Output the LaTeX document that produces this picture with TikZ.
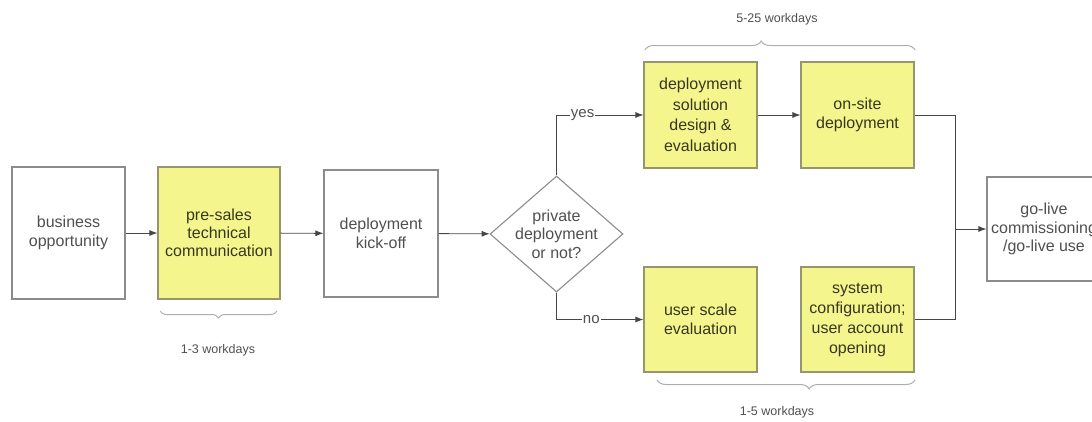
\documentclass[tikz,border=0pt]{standalone}
\usepackage{fontspec}
\setmainfont{Liberation Sans}
\usetikzlibrary{shapes.geometric,arrows.meta,decorations.pathreplacing,calc}
\definecolor{boxyellow}{RGB}{245,245,142}
\definecolor{yborder}{RGB}{150,150,110}
\definecolor{wborder}{RGB}{140,140,140}
\definecolor{wtext}{RGB}{80,80,80}
\definecolor{ytext}{RGB}{55,55,30}
\definecolor{linec}{RGB}{70,70,70}
\definecolor{bracec}{RGB}{170,175,180}
\begin{document}
\begin{tikzpicture}[x=1pt,y=-1pt,
  font=\fontsize{16}{19.5}\selectfont,
  wbox/.style={draw=wborder,line width=1.1pt,fill=white,text=wtext,align=center,inner sep=0pt},
  ybox/.style={draw=yborder,line width=1.1pt,fill=boxyellow,text=ytext,align=center,inner sep=0pt},
  conn/.style={draw=linec,line width=0.9pt,-{Latex[length=8pt,width=6pt]}},
  plainline/.style={draw=linec,line width=0.9pt},
  bracestyle/.style={draw=bracec,line width=1pt,decorate},
  small/.style={font=\fontsize{12.5}{14}\selectfont,text=wtext},
  lbl/.style={fill=white,inner sep=1pt,text=wtext,font=\fontsize{15}{17}\selectfont}]
\useasboundingbox (0,0) rectangle (1092,421);
\node[wbox,minimum width=113pt,minimum height=132pt] (b1) at (68.5,233) {business\\opportunity};
\node[ybox,minimum width=122pt,minimum height=132pt,font=\fontsize{16}{17.8}\selectfont] (b2) at (219,233) {pre-sales\\technical\\communication};
\node[wbox,minimum width=114pt,minimum height=127pt] (b3) at (381,233.5) {deployment\\kick-off};
\node[draw=wborder,line width=1.1pt,fill=white,text=wtext,align=center,shape=diamond,inner sep=-3pt,aspect=1.15,minimum width=133pt,minimum height=116pt,font=\fontsize{16}{18.3}\selectfont] (d) at (556.5,234) {private\\deployment\\or not?};
\node[ybox,minimum width=113pt,minimum height=106pt,font=\fontsize{16}{20.5}\selectfont] (b4) at (700.5,115) {deployment\\solution\\design \&\\evaluation};
\node[ybox,minimum width=113pt,minimum height=106pt] (b5) at (857.5,115) {on-site\\deployment};
\node[ybox,minimum width=113pt,minimum height=105pt] (b6) at (700.5,319.5) {user scale\\evaluation};
\node[ybox,minimum width=113pt,minimum height=105pt,font=\fontsize{16}{20}\selectfont] (b7) at (857.5,319.5) {system\\configuration;\\user account\\opening};
\node[wbox,minimum width=114pt,minimum height=104pt,font=\fontsize{16}{18.3}\selectfont] (b8) at (1044,229) {go-live\\commissioning\\/go-live use};
\coordinate (j) at (955,229);
\draw[conn] (b1) -- (b2);
\draw[conn] (b2) -- (b3);
\draw[conn] (b3) -- (d);
\draw[conn] (d.north) |- node[lbl,pos=0.65] {yes} (b4.west);
\draw[conn] (d.south) |- node[lbl,pos=0.70] {no} (b6.west);
\draw[conn] (b4) -- (b5);
\draw[plainline] (b5.east) -| (j);
\draw[plainline] (b7.east) -| (j);
\draw[conn] (j) -- (b8.west);
\draw[bracestyle,decoration={brace,amplitude=9pt,aspect=0.43}] (645,50) -- (915,50);
\node[small] (l1) at (777,19) {5-25 workdays};
\draw[bracestyle,decoration={brace,amplitude=9pt,aspect=0.41}] (915,380) -- (657,380);
\node[small] (l2) at (777,412) {1-5 workdays};
\draw[bracestyle,decoration={brace,amplitude=7pt}] (277,311) -- (160,311);
\node[small] (l3) at (218,350) {1-3 workdays};
\end{tikzpicture}
\end{document}
